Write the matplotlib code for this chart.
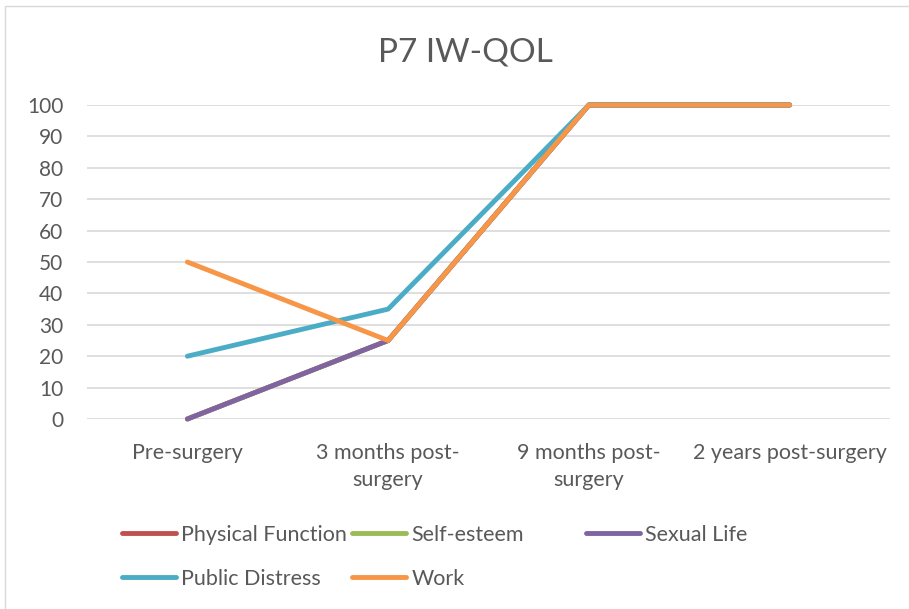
import matplotlib
matplotlib.use("Agg")
import matplotlib.pyplot as plt
from matplotlib.lines import Line2D
from matplotlib.patches import Rectangle

categories = ["Pre-surgery", "3 months post-\nsurgery", "9 months post-\nsurgery", "2 years post-surgery"]
physical_function = [0, 25, 100, 100]
self_esteem = [0, 25, 100, 100]
sexual_life = [0, 25, 100, 100]
public_distress = [20, 35, 100, 100]
work = [50, 25, 100, 100]

series = [
    ("Physical Function", physical_function, "#C0504D"),
    ("Self-esteem", self_esteem, "#9BBB59"),
    ("Sexual Life", sexual_life, "#8064A2"),
    ("Public Distress", public_distress, "#4BACC6"),
    ("Work", work, "#F79646"),
]
yticks = [0, 10, 20, 30, 40, 50, 60, 70, 80, 90, 100]

plt.rcParams["font.family"] = ["Lato", "DejaVu Sans"]
text_color = "#595959"

W, H = 909, 609
fig = plt.figure(figsize=(W / 100, H / 100), dpi=100)

# chart border
fig.patches.append(Rectangle((5 / W, -0.01), 1.0, 1 - 6 / H + 0.01, transform=fig.transFigure,
                             fill=False, edgecolor="#D9D9D9", linewidth=1))

ax = fig.add_axes([87 / W, 1 - 419 / H, (890 - 87) / W, (419 - 105) / H])
x = list(range(len(categories)))
lines = {}
for name, vals, color in series:
    ln, = ax.plot(x, vals, color=color, linewidth=3.5, solid_capstyle="round",
                  solid_joinstyle="round", label=name, clip_on=False)
    lines[name] = ln

ax.set_xlim(-0.5, len(categories) - 0.5)
ax.set_ylim(0, 100)
ax.set_yticks(yticks)
ax.set_xticks(x)
ax.set_xticklabels(categories, fontsize=15.5, color=text_color, linespacing=1.45)
ax.set_yticklabels([str(v) for v in yticks], fontsize=15, color=text_color)
ax.tick_params(axis="both", length=0)
ax.tick_params(axis="x", pad=17)
ax.tick_params(axis="y", pad=17)
for s in ax.spines.values():
    s.set_visible(False)
ax.grid(axis="y", color="#D9D9D9", linewidth=1.2)
ax.set_axisbelow(True)

fig.text(465 / W, 1 - 52 / H, "P7 IW-QOL", ha="center", va="center", fontsize=24, color=text_color)

# legend entries placed in a 3-column grid
positions = {
    "Physical Function": (122, 535),
    "Self-esteem": (352, 535),
    "Sexual Life": (586, 535),
    "Public Distress": (122, 579),
    "Work": (352, 579),
}
for name, (px, py) in positions.items():
    ln = lines[name]
    h = Line2D([], [], color=ln.get_color(), linewidth=3.5, solid_capstyle="round")
    leg = fig.legend([h], [name], loc="center left", bbox_to_anchor=(px / W, 1 - py / H),
                     frameon=False, fontsize=15.5, handlelength=2.5, handletextpad=0.25,
                     borderaxespad=0, borderpad=0)
    for t in leg.get_texts():
        t.set_color(text_color)

fig.savefig("out.png", dpi=100)
